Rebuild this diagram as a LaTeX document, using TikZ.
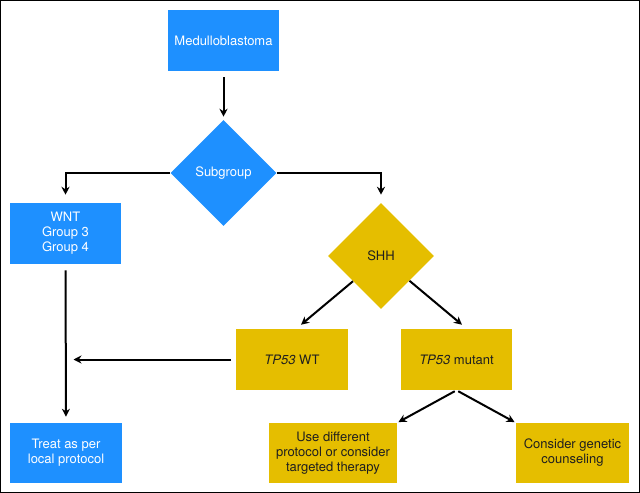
\documentclass[tikz,border=0pt]{standalone}
\usepackage{fontspec}
\setmainfont{TeX Gyre Heros}
\usetikzlibrary{shapes.geometric,arrows.meta,calc}

\definecolor{mb blue}{RGB}{30,144,255}
\definecolor{shh gold}{RGB}{229,190,0}
\colorlet{box text}{black!88}
\tikzset{
  bluebox/.style={rectangle, fill=mb blue, text=white, minimum width=83.5pt, minimum height=45.75pt, align=center, inner sep=2pt},
  goldbox/.style={rectangle, fill=shh gold, text=box text, minimum width=83.5pt, minimum height=45.75pt, align=center, inner sep=2pt}
  }
\tikzstyle{bluediamond}=[diamond, fill=mb blue, text=white, minimum width=79.5pt, minimum height=79.5pt, inner sep=0pt]
\tikzstyle{golddiamond}=[diamond, fill=shh gold, text=box text, minimum width=79.5pt, minimum height=79.5pt, inner sep=0pt]
\tikzstyle{flow}=[draw, line width=1.5pt, -{Stealth[length=6pt,width=6pt]}]

\begin{document}
\begin{tikzpicture}[x=0.75pt, y=-0.75pt, font=\fontsize{9.75}{11.25}\selectfont]
    \useasboundingbox (0,0) rectangle (640,493);
    \draw[line width=1.1pt] (0.75,0.75) rectangle (639.25,492.25);

    % The blue part
    \node[bluebox] (med) at (223.5,40.5) {Medulloblastoma};
    \node[bluediamond] (sub) at (223.5,173) {Subgroup};
    \node[bluebox] (wnt) at (65.5,233.5) {WNT\\Group 3\\Group 4};
    \node[bluebox, minimum width=84pt, minimum height=45pt] (treat) at (66,453) {Treat as per\\local protocol};

    % The SHH branch
    \node[golddiamond] (shh) at (381,256) {SHH};
    \foreach \pos/\name/\txt in {{(292,359.5)/wt/\textit{TP53} WT}, {(456.5,359.5)/mutant/\textit{TP53} mutant}} {
      \node[goldbox] (\name) at \pos {\txt};
    }
    \node[goldbox, minimum width=96pt, minimum height=45pt] (use) at (333,453) {Use different\\protocol or consider\\targeted therapy};
    \node[goldbox, minimum width=84.75pt, minimum height=45pt] (counsel) at (572.5,453) {Consider genetic\\counseling};

    % The connections between them
    \path[flow, shorten <=4.5pt, shorten >=2.25pt] (med) -- (sub);
    \path[flow, shorten >=6pt] (sub.west) -| (wnt.north);
    \path[flow, shorten >=6pt] (sub.east) -| (shh.north);
    \path[flow, shorten <=4.5pt, shorten >=4.5pt] (wnt) -- (treat);
    \path[flow, shorten <=3.75pt, shorten >=6pt] (wt.west) -- (wt.west -| wnt.south);
    \path[flow] (shh.222) -- ($(wt.north)+(9,-4)$);
    \path[flow] (shh.319) -- ($(mutant.north)+(5.5,-4)$);
    \foreach \sink/\corner in {use/north east, counsel/north west} {
      \path[flow, shorten <=1.5pt, shorten >=1pt] (mutant.south) -- (\sink.\corner);
    }

\end{tikzpicture}
\end{document}
